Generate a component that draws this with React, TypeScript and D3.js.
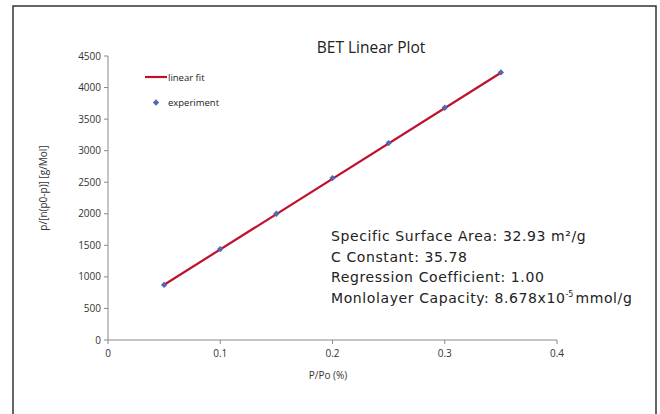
import React from "react";
import * as d3 from "d3";

const pressureRatio = [0.05, 0.1, 0.15, 0.2, 0.25, 0.3, 0.35];
const betValues = [873, 1440, 2000, 2565, 3120, 3680, 4240];
const fitX = [0.05, 0.35];
const fitY = [875, 4235];
const xTicks = [0, 0.1, 0.2, 0.3, 0.4];
const yTicks = [0, 500, 1000, 1500, 2000, 2500, 3000, 3500, 4000, 4500];
const annotations = [
  "Specific Surface Area: 32.93 m²/g",
  "C Constant: 35.78",
  "Regression Coefficient: 1.00",
  "Monlolayer Capacity: 8.678x10",
];

const W = 660;
const H = 414;
const left = 108;
const right = 557;
const top = 56;
const bottom = 340;

export default function App() {
  const x = d3.scaleLinear().domain([0, 0.4]).range([left, right]);
  const y = d3.scaleLinear().domain([0, 4500]).range([bottom, top]);
  const line = d3
    .line<number>()
    .x((_, i) => x(fitX[i]))
    .y((d) => y(d));
  const diamond = d3.symbol().type(d3.symbolSquare).size(20)();
  const tickFont = "'Open Sans', sans-serif";
  const annFont = "'DejaVu Sans', sans-serif";

  return (
    <svg
      width={W}
      height={H}
      style={{ position: "absolute", left: 0, top: 0, background: "#fff" }}
    >
      <rect x={13} y={6} width={643} height={H} fill="#fff" stroke="#333" strokeWidth={1.5} />
      <text x={371} y={53} textAnchor="middle" fontFamily={tickFont} fontSize={15.5} fill="#222">
        BET Linear Plot
      </text>
      {/* axes */}
      <line x1={left} x2={left} y1={top} y2={bottom} stroke="#888" />
      <line x1={left} x2={right} y1={bottom} y2={bottom} stroke="#888" />
      {yTicks.map((t) => (
        <g key={"y" + t}>
          <line x1={left - 4} x2={left} y1={y(t)} y2={y(t)} stroke="#888" />
          <text x={101} y={y(t) + 3.5} textAnchor="end" fontFamily={tickFont} fontSize={10} fill="#333">
            {t}
          </text>
        </g>
      ))}
      {xTicks.map((t) => (
        <g key={"x" + t}>
          <line x1={x(t)} x2={x(t)} y1={bottom} y2={bottom + 4} stroke="#888" />
          <text x={x(t)} y={357} textAnchor="middle" fontFamily={tickFont} fontSize={10} fill="#333">
            {t}
          </text>
        </g>
      ))}
      <text x={328} y={379} textAnchor="middle" fontFamily={tickFont} fontSize={10} fill="#333">
        P/Po (%)
      </text>
      <text
        transform={`translate(${47},${188}) rotate(-90)`}
        textAnchor="middle"
        fontFamily={tickFont}
        fontSize={10}
        fill="#333"
      >
        p/[n(p0-p)] [g/Mol]
      </text>
      {/* fit line */}
      <path d={line(fitY) || ""} fill="none" stroke="#C0102F" strokeWidth={2.2} />
      {pressureRatio.map((p, i) => (
        <path
          key={"p" + i}
          d={diamond || ""}
          transform={`translate(${x(p)},${y(betValues[i])}) rotate(45)`}
          fill="#5068B2"
        />
      ))}
      {/* legend */}
      <line x1={145} x2={167} y1={77} y2={77} stroke="#C0102F" strokeWidth={2.2} />
      <text x={168} y={80.5} fontFamily={tickFont} fontSize={9.5} fill="#222">
        linear fit
      </text>
      <path d={diamond || ""} transform="translate(156,102.5) rotate(45)" fill="#5068B2" />
      <text x={168} y={106} fontFamily={tickFont} fontSize={9.5} fill="#222">
        experiment
      </text>
      {/* annotation */}
      {annotations.map((a, i) => (
        <text
          key={"a" + i}
          x={331}
          y={241 + i * 20.7}
          fontFamily={annFont}
          fontSize={14}
          letterSpacing={0.6}
          fill="#222"
        >
          {a}
          {i === 3 ? (
            <>
              <tspan fontSize={8} dy={-6} letterSpacing={0}>-5</tspan>
              <tspan dy={6} dx={2}>mmol/g</tspan>
            </>
          ) : null}
        </text>
      ))}
    </svg>
  );
}
